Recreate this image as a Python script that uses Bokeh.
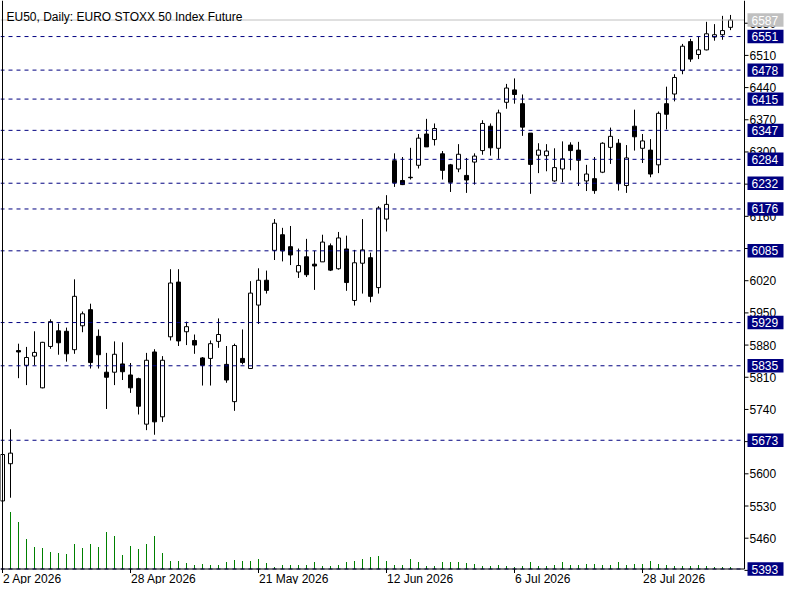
from bokeh.plotting import figure
from bokeh.models import Range1d
from bokeh.embed import file_html
from bokeh.resources import INLINE
from bokeh.core.properties import value

# ---- data ----
opens = [5541, 5622, 5868, 5836, 5856, 5787, 5877, 5911, 5910, 5870,
         5922, 5957, 5899, 5821, 5821, 5839, 5815, 5807, 5708, 5865,
         5724, 5898, 6017, 5909, 5890, 5852, 5851, 5888, 5838, 5757,
         5851, 5829, 5967, 6021, 6086, 6120, 6094, 6039, 6072, 6056,
         6061, 6096, 6046, 6089, 5977, 6058, 6070, 6005, 6154, 6281,
         6238, 6245, 6271, 6339, 6327, 6296, 6272, 6263, 6249, 6278,
         6303, 6356, 6308, 6408, 6435, 6405, 6341, 6293, 6292, 6237,
         6263, 6315, 6304, 6237, 6242, 6256, 6310, 6319, 6227, 6356,
         6308, 6304, 6272, 6405, 6426, 6477, 6540, 6512, 6522, 6550,
         6555, 6571]
highs = [5648, 5697, 5883, 5876, 5910, 5887, 5936, 5927, 5918, 6023,
         5953, 5970, 5914, 5863, 5888, 5886, 5841, 5809, 5863, 5871,
         5856, 6045, 6045, 5931, 5903, 5854, 5890, 5938, 5878, 5883,
         5914, 6019, 6047, 6042, 6154, 6135, 6139, 6090, 6111, 6085,
         6120, 6101, 6126, 6118, 6087, 6154, 6081, 6182, 6206, 6297,
         6289, 6309, 6339, 6372, 6362, 6302, 6274, 6317, 6287, 6297,
         6369, 6362, 6392, 6448, 6460, 6425, 6341, 6319, 6317, 6308,
         6323, 6321, 6322, 6272, 6289, 6321, 6353, 6328, 6315, 6392,
         6339, 6328, 6388, 6442, 6469, 6535, 6546, 6550, 6583, 6578,
         6596, 6598]
lows = [5530, 5548, 5808, 5793, 5836, 5786, 5872, 5859, 5844, 5861,
        5908, 5829, 5829, 5741, 5793, 5804, 5776, 5729, 5695, 5685,
        5713, 5890, 5878, 5880, 5861, 5792, 5792, 5874, 5798, 5737,
        5838, 5828, 5926, 5992, 6065, 6062, 6054, 6026, 6028, 6000,
        6061, 6041, 6044, 5998, 5966, 5992, 5973, 5992, 6127, 6224,
        6228, 6240, 6264, 6311, 6314, 6240, 6213, 6256, 6211, 6229,
        6294, 6292, 6285, 6394, 6405, 6335, 6209, 6254, 6258, 6235,
        6234, 6260, 6226, 6215, 6209, 6254, 6274, 6216, 6211, 6303,
        6276, 6245, 6254, 6349, 6410, 6469, 6496, 6502, 6521, 6542,
        6544, 6565]
closes = [5642, 5645, 5865, 5853, 5864, 5886, 5931, 5885, 5861, 5986,
          5948, 5842, 5859, 5810, 5860, 5822, 5787, 5747, 5847, 5713,
          5847, 6015, 5889, 5920, 5880, 5836, 5883, 5903, 5804, 5879,
          5842, 5993, 6021, 5999, 6145, 6085, 6076, 6053, 6033, 6052,
          6104, 6043, 6113, 6016, 6059, 6087, 5986, 6178, 6186, 6233,
          6229, 6244, 6330, 6311, 6351, 6260, 6234, 6295, 6239, 6291,
          6362, 6309, 6385, 6439, 6425, 6354, 6273, 6304, 6302, 6266,
          6285, 6303, 6282, 6252, 6216, 6319, 6334, 6231, 6287, 6333,
          6324, 6252, 6384, 6382, 6462, 6530, 6502, 6522, 6557, 6555,
          6564, 6587]
volumes = [62, 57, 47, 30, 22, 21, 17, 16, 15, 25,
           21, 25, 22, 37, 33, 14, 23, 20, 25, 33,
           16, 8, 8, 6, 4, 5, 4, 4, 7, 9,
           8, 8, 10, 6, 2, 4, 4, 4, 4, 7,
           3, 3, 4, 7, 8, 10, 12, 13, 8, 4,
           4, 10, 7, 3, 3, 7, 7, 7, 6, 5,
           3, 3, 4, 3, 2, 3, 7, 3, 3, 4,
           7, 4, 4, 5, 5, 4, 4, 7, 4, 5,
           5, 8, 5, 4, 3, 3, 3, 4, 3, 2,
           2, 2]
date_ticks = [0, 16, 32, 48, 64, 80]
date_labels = ["2 Apr 2026", "28 Apr 2026", "21 May 2026", "12 Jun 2026",
               "6 Jul 2026", "28 Jul 2026"]
levels = [6551, 6478, 6415, 6347, 6284, 6232, 6176, 6085, 5929, 5835, 5673, 5393]
last_price = 6587
price_ticks = list(range(5390, 6590, 70))
title_text = "EU50, Daily:  EURO STOXX 50 Index Future"

FONT = "Liberation Sans"
NAVY = "#000080"
W, H = 784, 584

# ---- pixel layout of the MT4-like chart ----
BAR_PX = 8.0            # px per bar
X0_PX = 2.0             # px of bar 0
AXIS_PX = 744.0         # right price axis line
BASE_PX = 568.5         # px row of the lowest price (5393)
LAST_PX = 19.5          # px row of the last price
base_price = levels[-1]
k = (BASE_PX - LAST_PX) / (last_price - base_price)   # px per price point

x_start = -X0_PX / BAR_PX
x_end = (W - X0_PX) / BAR_PX
y_start = base_price - (H - BASE_PX) / k
y_end = base_price + BASE_PX / k


def dx(px):
    return px / BAR_PX


def dy(px):
    return px / k


ax = (AXIS_PX - X0_PX) / BAR_PX
idx = list(range(len(opens)))

p = figure(width=W, height=H, output_backend="svg", toolbar_location=None,
           x_range=Range1d(x_start, x_end), y_range=Range1d(y_start, y_end),
           x_axis_location=None, y_axis_location=None,
           min_border_left=0, min_border_right=0, min_border_top=0,
           min_border_bottom=0)
p.title.visible = False
p.outline_line_color = None
p.grid.visible = False
p.background_fill_color = "white"
p.border_fill_color = "white"

# volume histogram (own range: 1 unit = 1 px, 0 at the base row)
p.extra_y_ranges = {"vol": Range1d(-(H - BASE_PX), BASE_PX)}
p.segment(x0=idx, y0=[0] * len(idx), x1=idx, y1=volumes, y_range_name="vol",
          line_color="#008000", line_width=1)

# candles
p.segment(x0=idx, y0=lows, x1=idx, y1=highs, line_color="black", line_width=1)
up = [i for i in idx if closes[i] >= opens[i]]
dn = [i for i in idx if closes[i] < opens[i]]
p.vbar(x=up, width=0.5, bottom=[opens[i] for i in up], top=[closes[i] for i in up],
       fill_color="white", line_color="black", line_width=1)
p.vbar(x=dn, width=0.5, bottom=[closes[i] for i in dn], top=[opens[i] for i in dn],
       fill_color="black", line_color="black", line_width=1)

# horizontal level lines (navy dashed) and last price line (grey)
n = len(levels)
p.segment(x0=[x_start] * n, y0=levels, x1=[ax] * n, y1=levels,
          line_color=NAVY, line_dash="4 4", line_width=1)
p.segment(x0=[x_start], y0=[last_price], x1=[ax], y1=[last_price],
          line_color="#C0C0C0", line_width=1)

# frame: left border, bottom line, right axis line
p.segment(x0=[0, x_start, ax], y0=[base_price, base_price, base_price],
          x1=[0, ax, ax], y1=[y_end, base_price, y_end],
          line_color="black", line_width=1)

# bottom (date) ticks and labels
m = len(date_ticks)
p.segment(x0=date_ticks, y0=[base_price] * m, x1=date_ticks,
          y1=[base_price - dy(4)] * m, line_color="black", line_width=1)
p.text(x=[t + dx(0.5) for t in date_ticks], y=[base_price - dy(2.5)] * m,
       text=date_labels, text_align="left", text_baseline="top",
       text_font=value(FONT), text_font_size=value("12px"), text_color="black")

# right price ticks and labels
q = len(price_ticks)
p.segment(x0=[ax] * q, y0=price_ticks, x1=[ax + dx(4)] * q, y1=price_ticks,
          line_color="black", line_width=1)
p.text(x=[ax + dx(5)] * q, y=price_ticks, text=[str(t) for t in price_ticks],
       text_align="left", text_baseline="middle",
       text_font=value(FONT), text_font_size=value("12px"), text_color="black")

# price boxes for levels
p.quad(left=[ax + dx(3)] * n, right=[ax + dx(39)] * n,
       bottom=[lv - dy(6.7) for lv in levels], top=[lv + dy(6.7) for lv in levels],
       fill_color=NAVY, line_color=None)
p.text(x=[ax + dx(7)] * n, y=levels, text=[str(lv) for lv in levels],
       text_align="left", text_baseline="middle",
       text_font=value(FONT), text_font_size=value("12px"), text_color="white")
p.quad(left=[ax + dx(3)], right=[ax + dx(39)],
       bottom=[last_price - dy(6.7)], top=[last_price + dy(6.7)],
       fill_color="#C0C0C0", line_color=None)
p.text(x=[ax + dx(7)], y=[last_price], text=[str(last_price)],
       text_align="left", text_baseline="middle",
       text_font=value(FONT), text_font_size=value("12px"), text_color="white")

# title
p.text(x=[dx(4)], y=[base_price + dy(BASE_PX - 16.5)], text=[title_text],
       text_align="left", text_baseline="alphabetic",
       text_font=value(FONT), text_font_size=value("12px"), text_color="black")

open("out.html", "w").write(file_html(p, INLINE))
